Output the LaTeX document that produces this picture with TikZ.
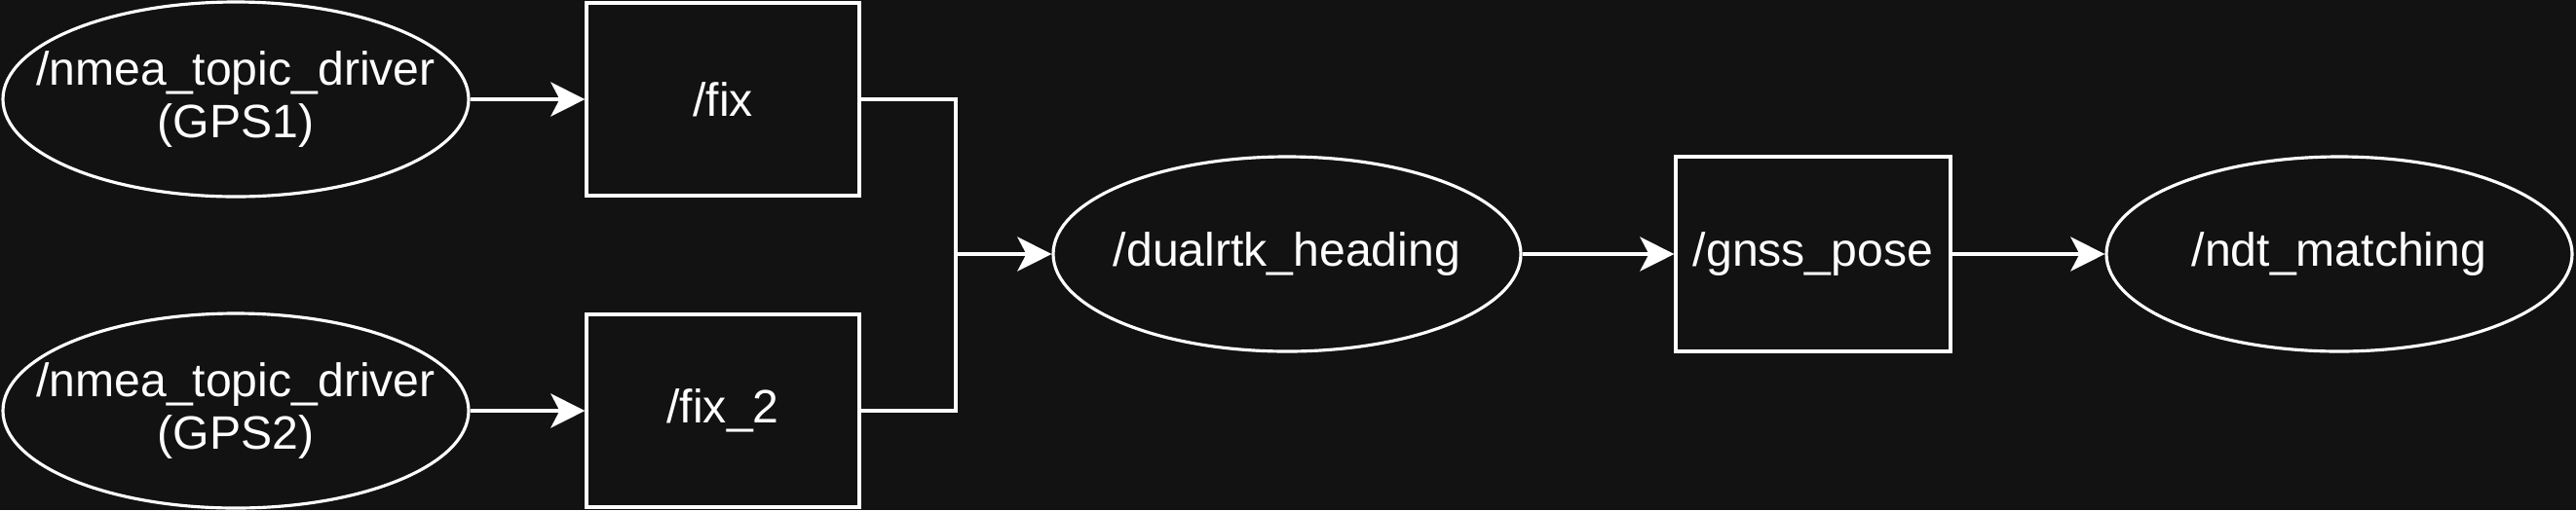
\documentclass[tikz,border=0pt]{standalone}
\usepackage{fontspec}
\setmainfont{Liberation Sans}
\usepackage{tikz}
\usetikzlibrary{arrows.meta, shapes.geometric}
\definecolor{bgdark}{HTML}{121212}

\begin{document}
\begin{tikzpicture}[line width=0.9pt, white,
  every node/.style={text=white, font=\fontsize{13.7}{15.5}\selectfont, align=center, inner sep=0pt},
  nodeoval/.style={ellipse, draw, minimum width=4.78cm, minimum height=2.0cm},
  topicbox/.style={rectangle, draw, minimum width=2.8cm, minimum height=1.98cm},
  link/.style={-{Stealth[length=10pt, width=10pt, inset=2.6pt]}}]
\fill[bgdark] (0,0) rectangle (26.44,5.24);
\useasboundingbox (0,0) rectangle (26.44,5.24);
\path
(2.42,4.22) node[nodeoval, label={center:{/nmea\_topic\_driver\\(GPS1)}}] (gpsa) {};
\path
(2.42,1.02) node[nodeoval, label={center:{/nmea\_topic\_driver\\(GPS2)}}] (gpsb) {};
\path
(7.42,4.22) node[topicbox] (fix) {/fix};
\path
(7.42,1.02) node[topicbox] (fixb) {/fix\_2};
\path
(13.21,2.63) node[nodeoval, minimum width=4.8cm, label={center:/dualrtk\_heading}] (dual) {};
\path
(18.61,2.63) node[topicbox, minimum width=2.82cm, minimum height=2.0cm] (gnss) {/gnss\_pose};
\path
(24.01,2.63) node[nodeoval, label={center:/ndt\_matching}] (ndt) {};
\coordinate (join) at (9.81,2.63);
\draw[link] (gpsa) -- (fix);
\draw[link] (gpsb) -- (fixb);
\draw (fix.east) -| (join);
\draw (fixb.east) -| (join);
\draw[link] (join) -- (dual.west);
\draw[link] (dual) -- (gnss);
\draw[link] (gnss) -- (ndt);
\end{tikzpicture}
\end{document}
